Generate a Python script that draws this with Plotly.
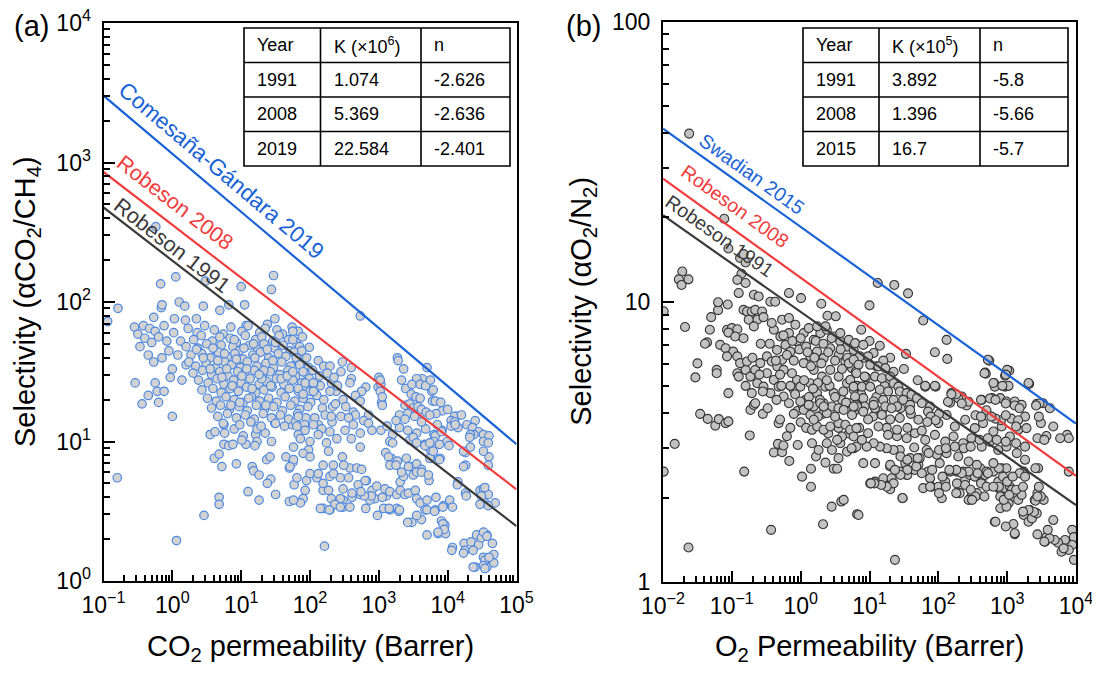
import math
import plotly.graph_objects as go

# ------------------------------------------------------------------
# Panel (a)  CO2/CH4  -- table text and upper-bound line parameters
# ------------------------------------------------------------------
a_years = ["1991", "2008", "2019"]
a_K_text = ["1.074", "5.369", "22.584"]
a_n_text = ["-2.626", "-2.636", "-2.401"]
a_K = [1.074e6, 5.369e6, 22.584e6]
a_n = [-2.626, -2.636, -2.401]
a_line_names = ["Robeson 1991", "Robeson 2008", "Comesaña-Gándara 2019"]

# Panel (b)  O2/N2
b_years = ["1991", "2008", "2015"]
b_K_text = ["3.892", "1.396", "16.7"]
b_n_text = ["-5.8", "-5.66", "-5.7"]
b_K = [3.892e5, 1.396e6, 1.67e7]
b_n = [-5.8, -5.66, -5.7]
b_line_names = ["Robeson 1991", "Robeson 2008", "Swadian 2015"]

# tick labels
a_xtick_exp = [-1, 0, 1, 2, 3, 4, 5]
a_ytick_exp = [0, 1, 2, 3, 4]
b_xtick_exp = [-2, -1, 0, 1, 2, 3, 4]
b_ytick_text = ["1", "10", "100"]

# ------------------------------------------------------------------
# Scatter data: (log10 permeability, log10 selectivity)
# ------------------------------------------------------------------
a_sparse_upper = [
    (-0.94, 1.86), (-0.79, 1.955), (-0.24, 2.54), (0.05, 2.18), (-0.17, 2.13), (-0.16, 1.96), (0.10, 2.00),
    (0.45, 1.97), (0.48, 2.15), (-0.27, 1.89), (0.18, 1.97), (0.69, 1.94), (0.82, 1.98), (1.00, 2.11),
    (1.05, 1.98), (1.47, 2.19), (1.44, 2.09), (1.49, 1.88), (1.38, 1.84), (1.07, 1.83), (2.73, 1.90),
    (0.03, 1.88), (0.19, 1.87), (0.35, 1.88), (-0.15, 1.98),
]
a_left = [
    (-0.55, 1.82), (-0.42, 1.83), (-0.33, 1.81), (-0.25, 1.79), (-0.12, 1.83), (-0.50, 1.77), (-0.40, 1.74),
    (-0.30, 1.71), (-0.47, 1.68), (-0.20, 1.75), (-0.08, 1.72), (-0.54, 1.42), (-0.25, 1.42), (-0.35, 1.33),
    (-0.22, 1.36), (-0.12, 1.36), (-0.44, 1.27), (-0.20, 1.28), (0.00, 1.18), (-0.27, 1.57), (0.00, 1.52),
    (-0.03, 1.46), (0.14, 1.44), (-0.05, 1.65), (0.08, 1.62), (-0.15, 1.60), (0.12, 1.72), (0.02, 1.78),
    (-0.35, 1.62), (0.20, 1.55), (-0.80, 0.74), (0.06, 0.29), (0.46, 0.47),
]
a_low = [
    (0.68, 0.60), (0.68, 0.55), (1.10, 0.64), (1.26, 0.58), (1.50, 0.62), (1.70, 0.57), (0.93, 0.84),
    (0.72, 0.82), (0.61, 0.88), (0.68, 0.91), (1.16, 0.82), (1.18, 0.79), (1.26, 0.76), (1.43, 0.73),
    (1.38, 0.70), (1.77, 0.69), (1.37, 0.87), (1.42, 0.89), (1.65, 0.89), (1.75, 0.85), (1.70, 0.81),
    (0.75, 0.98), (0.82, 0.97), (0.88, 0.98), (1.07, 0.98), (0.55, 1.05), (0.62, 1.07), (0.76, 1.06),
    (0.75, 1.12), (0.90, 1.09), (1.03, 1.04), (1.01, 1.01), (1.21, 1.05), (1.23, 1.09), (1.23, 1.00),
    (1.20, 0.97), (1.35, 1.06), (1.44, 1.00), (1.49, 1.13), (1.74, 1.12), (1.83, 1.05),
]
a_core = [
    (0.23, 1.81), (0.36, 1.78), (0.47, 1.83), (0.61, 1.80), (0.74, 1.77), (0.85, 1.82), (1.01, 1.79), (1.10, 1.83),
    (1.27, 1.78), (1.35, 1.81), (1.52, 1.80), (1.60, 1.77), (1.74, 1.82), (1.83, 1.79),
    (0.31, 1.73), (0.42, 1.76), (0.58, 1.72), (0.69, 1.75), (0.84, 1.74), (0.93, 1.71), (1.06, 1.76), (1.21, 1.73),
    (1.30, 1.75), (1.46, 1.72), (1.55, 1.76), (1.69, 1.73), (1.80, 1.71), (1.89, 1.75),
    (0.20, 1.68), (0.37, 1.67), (0.50, 1.70), (0.62, 1.66), (0.71, 1.69), (0.88, 1.68), (0.97, 1.65), (1.12, 1.69),
    (1.24, 1.66), (1.33, 1.70), (1.48, 1.67), (1.61, 1.69), (1.71, 1.65), (1.85, 1.68),
    (0.27, 1.62), (0.43, 1.63), (0.55, 1.60), (0.67, 1.64), (0.80, 1.61), (0.91, 1.63), (1.03, 1.59), (1.17, 1.62),
    (1.28, 1.64), (1.40, 1.60), (1.54, 1.63), (1.65, 1.61), (1.77, 1.64), (1.91, 1.60),
    (0.24, 1.57), (0.34, 1.54), (0.49, 1.56), (0.63, 1.53), (0.76, 1.57), (0.86, 1.55), (0.99, 1.53), (1.09, 1.57),
    (1.23, 1.54), (1.36, 1.56), (1.47, 1.53), (1.59, 1.57), (1.72, 1.54), (1.86, 1.56), (1.98, 1.53),
    (0.30, 1.49), (0.44, 1.51), (0.57, 1.48), (0.69, 1.50), (0.81, 1.47), (0.95, 1.50), (1.05, 1.48), (1.19, 1.51),
    (1.31, 1.47), (1.42, 1.50), (1.56, 1.48), (1.68, 1.51), (1.79, 1.47), (1.93, 1.49), (2.04, 1.51),
    (0.38, 1.44), (0.52, 1.42), (0.65, 1.45), (0.75, 1.41), (0.89, 1.44), (1.00, 1.42), (1.13, 1.45), (1.26, 1.41),
    (1.37, 1.43), (1.51, 1.45), (1.62, 1.41), (1.75, 1.44), (1.88, 1.42), (1.99, 1.45), (2.10, 1.42),
    (0.43, 1.37), (0.59, 1.38), (0.71, 1.35), (0.84, 1.38), (0.96, 1.36), (1.08, 1.39), (1.21, 1.35), (1.33, 1.37),
    (1.45, 1.39), (1.58, 1.35), (1.70, 1.38), (1.83, 1.36), (1.95, 1.38), (2.07, 1.35),
    (0.51, 1.31), (0.64, 1.29), (0.78, 1.32), (0.90, 1.30), (1.03, 1.28), (1.15, 1.32), (1.27, 1.29), (1.40, 1.31),
    (1.52, 1.28), (1.64, 1.32), (1.78, 1.29), (1.90, 1.31), (2.01, 1.28),
    (0.57, 1.24), (0.70, 1.26), (0.83, 1.23), (0.97, 1.25), (1.09, 1.22), (1.22, 1.26), (1.34, 1.23), (1.47, 1.25),
    (1.60, 1.22), (1.72, 1.26), (1.85, 1.23), (1.97, 1.25),
    (0.66, 1.18), (0.80, 1.20), (0.93, 1.17), (1.06, 1.19), (1.19, 1.16), (1.32, 1.20), (1.44, 1.17), (1.57, 1.19),
    (1.69, 1.16), (1.82, 1.20), (1.94, 1.17),
    (0.74, 1.13), (0.98, 1.12), (1.14, 1.14), (1.29, 1.11), (1.50, 1.13), (1.63, 1.11), (1.79, 1.14), (1.92, 1.12),
    (0.66, 1.58), (0.79, 1.52), (0.93, 1.59), (1.08, 1.52), (1.20, 1.60), (1.33, 1.51), (1.46, 1.58), (0.72, 1.46),
    (0.87, 1.40), (1.01, 1.47), (1.16, 1.38), (1.30, 1.45), (1.43, 1.40), (0.59, 1.67), (0.76, 1.63), (0.90, 1.73),
    (1.04, 1.67), (1.18, 1.70), (1.38, 1.66), (1.50, 1.71), (0.55, 1.52), (1.26, 1.48), (1.58, 1.45), (1.11, 1.31),
    (0.98, 1.28), (1.36, 1.26), (0.85, 1.26), (1.67, 1.47), (1.81, 1.59), (0.45, 1.60), (0.35, 1.66),
]
a_mid = [
    (2.12, 1.58), (2.20, 1.54), (2.29, 1.54), (2.47, 1.57), (2.60, 1.53), (2.60, 1.45), (2.58, 1.42), (2.31, 1.42),
    (2.81, 1.39), (2.99, 1.39), (3.03, 1.41), (2.75, 1.36), (2.66, 1.33), (2.38, 1.36), (2.29, 1.36), (2.48, 1.30),
    (2.73, 1.29), (3.04, 1.28), (3.05, 1.26), (2.63, 1.21), (2.66, 1.19), (2.85, 1.19), (2.18, 1.24), (2.22, 1.19),
    (2.33, 1.25), (2.37, 1.27), (2.15, 1.40), (2.05, 1.41), (2.10, 1.33), (2.20, 1.30), (2.14, 1.47), (2.25, 1.49),
    (2.35, 1.46), (2.45, 1.50), (2.40, 1.40), (2.52, 1.25), (2.45, 1.18), (2.32, 1.14), (2.12, 1.12),
    (1.83, 1.18), (2.07, 1.17), (2.31, 1.18), (2.56, 1.17), (2.78, 1.15), (1.81, 1.11), (1.93, 1.08), (2.05, 1.12),
    (2.17, 1.09), (2.29, 1.07), (1.86, 1.02), (2.00, 1.00), (2.12, 1.05), (2.24, 0.99), (2.39, 1.02), (2.51, 1.08),
    (2.63, 1.12), (2.85, 1.13), (1.76, 0.96), (1.98, 0.94), (2.27, 0.93), (2.73, 1.06), (2.73, 0.96), (2.90, 1.08),
    (3.03, 1.08), (2.60, 1.02),
    (1.90, 0.915), (2.00, 0.89), (1.76, 0.87), (1.71, 0.82), (2.19, 0.83), (2.34, 0.83), (2.58, 0.81), (2.68, 0.81),
    (2.75, 0.80), (2.82, 0.72), (2.70, 0.69), (2.73, 0.62), (2.61, 0.60), (2.48, 0.58), (2.44, 0.59), (2.31, 0.59),
    (2.19, 0.52), (2.29, 0.51), (2.36, 0.55), (2.48, 0.53), (1.81, 0.74), (1.95, 0.72), (1.93, 0.65), (2.19, 0.65),
    (2.27, 0.65), (2.10, 0.74), (2.29, 0.75), (2.44, 0.74), (2.56, 0.74), (1.90, 0.59), (1.86, 0.56), (1.76, 0.58),
    (2.48, 0.66), (2.58, 0.53), (2.00, 0.77), (2.12, 0.77), (2.19, 0.70), (2.34, 0.77), (2.47, 0.89), (2.49, 0.83),
    (2.15, 0.52), (2.28, 0.51), (2.44, 0.53), (2.21, 0.25),
    (1.75, 1.79), (1.75, 1.73), (1.99, 1.675), (1.88, 1.65), (1.93, 1.42), (2.05, 1.42), (2.00, 1.36), (1.83, 1.38),
    (1.90, 1.34), (2.05, 1.36), (1.95, 1.60), (1.80, 1.60), (1.85, 1.55), (1.75, 1.50), (1.90, 1.50),
]
a_right = [
    (3.27, 1.60), (3.28, 1.58), (3.33, 1.44), (3.63, 1.45), (3.39, 1.38), (3.77, 1.36), (3.79, 1.37), (3.47, 1.34),
    (3.54, 1.32), (3.60, 1.31), (3.38, 1.26), (3.45, 1.27), (3.78, 1.29), (3.50, 1.24), (3.57, 1.25), (3.62, 1.23),
    (3.92, 1.22), (4.13, 1.18), (3.83, 1.20), (3.69, 1.21), (3.74, 1.19), (3.30, 1.19), (3.42, 1.20), (3.52, 1.18),
    (4.40, 1.15), (3.70, 1.53), (3.36, 1.52), (3.55, 1.45), (3.48, 1.41), (3.60, 1.41), (3.68, 1.40), (3.75, 1.44),
    (3.82, 1.29), (3.90, 1.28), (4.00, 1.23), (4.10, 1.18), (4.20, 1.19), (4.05, 1.15), (4.15, 1.10), (4.28, 1.12),
    (4.36, 1.10), (4.45, 1.07), (4.52, 1.05), (4.60, 1.04), (4.38, 1.05), (4.26, 0.92), (4.26, 0.83), (4.60, 0.89),
    (4.33, 1.05), (4.33, 0.96), (4.52, 1.00), (4.52, 0.93), (4.23, 0.93), (3.99, 1.00), (4.02, 0.97), (4.05, 1.11),
    (4.10, 1.14), (3.02, 1.36), (3.05, 1.32), (3.00, 1.46), (3.02, 1.44),
    (3.30, 1.10), (3.42, 1.08), (3.55, 1.06), (3.68, 1.09), (3.80, 1.05), (3.92, 1.08), (3.25, 1.15), (3.38, 1.16),
    (3.62, 1.14), (3.85, 1.12), (3.12, 1.11), (3.20, 1.05),
    (3.45, 1.01), (3.50, 1.03), (3.55, 0.99), (3.16, 1.00), (3.20, 0.99), (3.67, 0.98), (3.72, 0.96), (3.76, 0.93),
    (3.82, 1.04), (3.91, 1.07), (3.80, 1.00), (3.88, 0.98), (3.75, 0.88), (3.89, 0.88), (3.10, 0.92), (3.18, 0.88),
    (3.27, 0.86), (3.40, 0.88), (3.48, 0.82), (3.55, 0.84), (3.62, 0.80),
    (2.98, 0.47), (2.81, 0.52), (3.07, 0.52), (3.16, 0.51), (3.26, 0.52), (3.29, 0.50), (3.11, 0.61), (2.94, 0.59),
    (2.87, 0.58), (2.80, 0.72), (2.90, 0.65), (2.97, 0.68), (3.09, 0.66), (3.16, 0.64), (3.26, 0.62), (3.31, 0.65),
    (3.38, 0.62), (3.43, 0.63), (3.53, 0.65), (3.31, 0.71), (3.36, 0.75), (3.33, 0.78), (3.50, 0.76), (3.55, 0.78),
    (3.62, 0.78), (3.73, 0.72), (3.72, 0.76), (3.14, 0.89), (3.16, 0.83), (3.25, 0.83), (3.43, 0.82), (3.55, 0.59),
    (3.60, 0.56), (3.70, 0.58), (3.67, 0.51), (3.62, 0.44), (3.82, 0.51), (3.94, 0.54), (4.03, 0.58), (4.07, 0.53),
    (3.83, 0.60), (4.15, 0.71), (4.26, 0.63), (4.47, 0.65), (4.52, 0.66), (4.59, 0.62), (4.54, 0.56), (4.47, 0.55),
    (4.23, 0.82), (3.48, 0.42), (3.91, 0.43), (3.96, 0.40), (3.70, 0.33), (3.86, 0.34), (3.97, 0.34), (4.07, 0.24),
    (4.06, 0.22), (4.24, 0.27), (4.25, 0.22), (4.23, 0.20), (4.34, 0.28), (4.42, 0.33), (4.45, 0.26), (4.49, 0.31),
    (4.57, 0.33), (4.40, 0.10), (4.52, 0.17), (4.57, 0.10), (3.74, 0.88), (3.88, 0.87), (3.67, 0.97), (3.74, 0.99),
    (3.79, 0.93),
    (4.37, 0.10), (4.54, 0.15), (4.52, 0.11), (4.54, 0.09), (4.67, 0.13), (4.67, 0.19), (4.60, 0.17), (4.52, 0.35),
    (4.57, 0.32), (4.65, 0.27), (4.37, 0.22), (4.69, 0.56), (4.59, 0.54), (4.49, 0.61), (4.54, 0.67), (4.14, 0.69),
    (4.27, 0.61), (4.32, 1.03), (4.59, 0.99), (4.11, 1.12), (4.59, 0.83),
    (3.42, 0.42), (3.55, 0.47), (3.70, 0.51), (3.81, 0.50), (3.93, 0.53), (3.30, 0.51), (3.15, 0.52), (3.05, 0.60),
    (2.89, 0.61), (2.79, 0.61), (2.61, 0.63), (2.74, 0.64), (3.93, 0.41), (3.95, 0.37), (3.86, 0.35),
]

b_upper = [
    (-1.62, 1.60), (-1.11, 1.296), (-1.72, 1.108), (-1.77, 1.08), (-1.73, 1.06), (-1.63, 1.08), (-1.68, 0.91),
    (-1.99, 0.966), (-1.05, 1.19), (-0.88, 1.156), (-0.80, 1.14), (-0.86, 1.10), (-0.83, 1.17), (-0.92, 1.078),
    (-0.80, 1.067), (-0.90, 1.031), (-0.68, 1.025), (-0.61, 1.019), (-0.44, 1.00), (-0.37, 1.00), (-0.17, 1.031),
    (0.005, 1.013), (0.30, 0.993), (0.39, 0.95), (0.51, 0.948), (1.12, 1.067), (1.36, 1.06), (1.56, 1.03),
    (1.00, 0.987), (1.78, 0.933), (2.12, 0.864), (1.95, 0.82), (2.13, 0.796), (1.53, 0.814), (2.74, 0.79),
    (2.68, 0.747), (2.69, 0.743), (3.03, 0.754), (2.97, 0.736), (2.81, 0.71), (2.82, 0.697), (2.97, 0.697),
    (3.02, 0.70), (3.32, 0.707),
]
b_left = [
    (-1.50, 0.78), (-1.53, 0.73), (-1.22, 0.757), (-1.05, 0.674), (-1.32, 0.90), (-1.30, 0.945), (-1.20, 0.97),
    (-1.20, 0.998), (-1.06, 0.99), (-1.36, 0.855), (-1.39, 0.85),
    (-1.07, 0.90), (-1.00, 0.906), (-0.92, 0.902), (-1.05, 0.89), (-0.95, 0.876), (-0.83, 0.87), (-1.17, 0.846),
    (-1.09, 0.834), (-0.98, 0.822), (-0.92, 0.805), (-1.07, 0.805), (-0.83, 0.971), (-0.78, 0.965), (-0.71, 0.965),
    (-0.66, 0.971), (-0.56, 0.965), (-0.63, 0.936), (-0.54, 0.945), (-0.755, 0.936), (-0.68, 0.912), (-1.22, 0.745),
    (-1.83, 0.493), (-1.99, 0.394), (-1.63, 0.123), (-1.46, 0.60), (-1.35, 0.582), (-1.24, 0.558), (-1.19, 0.581),
    (-1.09, 0.567), (-1.05, 0.573), (-0.82, 0.394), (-0.74, 0.523), (-0.73, 0.614), (-0.68, 0.632), (-0.55, 0.60),
    (-0.32, 0.567), (-0.43, 0.186), (-0.39, 0.462), (-0.33, 0.493), (-0.27, 0.463), (-0.25, 0.487), (-0.165, 0.432),
    (-0.043, 0.489), (0.02, 0.376), (0.15, 0.34), (0.15, 0.404), (0.325, 0.206), (0.45, 0.269), (0.59, 0.287),
    (0.625, 0.293), (0.82, 0.242),
]
b_core = [
    (-0.92, 0.745), (-0.90, 0.733), (-0.80, 0.757), (-0.73, 0.733), (-0.66, 0.757), (-0.63, 0.709), (-0.71, 0.674),
    (-0.66, 0.638), (-0.88, 0.781), (-0.78, 0.787), (-0.586, 0.781), (-0.49, 0.805), (-0.42, 0.787), (-0.34, 0.769),
    (-0.247, 0.757), (-0.49, 0.745), (-0.39, 0.721), (-0.54, 0.697), (-0.44, 0.674), (-0.32, 0.697), (-0.247, 0.662),
    (-0.17, 0.638), (-0.10, 0.686), (-0.053, 0.721), (-0.126, 0.745), (-0.27, 0.793), (-0.344, 0.828), (-0.22, 0.846),
    (-0.15, 0.822), (-0.053, 0.858), (0.044, 0.888), (0.117, 0.906), (0.19, 0.864), (0.286, 0.888), (0.38, 0.900),
    (0.48, 0.876), (0.576, 0.858), (0.673, 0.840), (0.77, 0.828), (0.43, 0.834), (0.552, 0.81), (0.65, 0.787),
    (0.746, 0.763), (0.334, 0.799), (0.237, 0.822), (0.14, 0.805), (0.044, 0.781), (0.19, 0.757), (0.31, 0.733),
    (0.43, 0.757), (0.552, 0.733), (0.673, 0.709), (0.77, 0.686), (-0.005, 0.697), (0.14, 0.709), (0.237, 0.674),
    (0.358, 0.697), (0.48, 0.674), (0.60, 0.65), (0.72, 0.638), (0.068, 0.65), (0.19, 0.626), (0.334, 0.638),
    (0.455, 0.626), (-0.39, 0.900), (-0.295, 0.876), (-0.17, 0.888), (-0.077, 0.918), (-0.27, 0.936), (-0.17, 0.942),
    (-0.42, 0.924), (0.24, 0.912), (0.36, 0.912), (0.576, 0.888), (0.70, 0.864), (0.795, 0.852),
    (-0.45, 0.85), (-0.36, 0.79), (-0.30, 0.74), (-0.20, 0.81), (-0.10, 0.79), (-0.02, 0.83), (0.08, 0.84),
    (0.15, 0.77), (0.22, 0.86), (0.30, 0.78), (0.40, 0.82), (0.50, 0.79), (0.60, 0.76), (0.68, 0.80), (0.05, 0.72),
    (0.25, 0.71), (0.42, 0.70), (0.62, 0.68), (-0.15, 0.70), (-0.35, 0.65), (-0.05, 0.61), (0.12, 0.66), (0.32, 0.60),
    (0.55, 0.62), (0.82, 0.70), (0.90, 0.62), (1.05, 0.59), (1.18, 0.61), (1.30, 0.58), (1.45, 0.62), (1.60, 0.60),
    (1.70, 0.72), (1.50, 0.76), (1.30, 0.80), (1.00, 0.86), (0.88, 0.90), (-0.58, 0.85), (-0.70, 0.80), (-0.60, 0.74),
    (-0.80, 0.70), (-0.55, 0.68), (-0.48, 0.62), (-0.30, 0.58), (-0.15, 0.55), (0.00, 0.57),
    (-0.25, 0.88), (-0.12, 0.86), (0.00, 0.87), (0.10, 0.82), (0.20, 0.80), (0.33, 0.85), (0.45, 0.87), (0.58, 0.83),
    (0.70, 0.78), (0.80, 0.75), (0.92, 0.80), (-0.28, 0.70), (-0.08, 0.67), (0.03, 0.63), (0.18, 0.69), (0.28, 0.65),
    (0.38, 0.72), (0.50, 0.66), (0.66, 0.64), (0.78, 0.61), (0.88, 0.67), (0.95, 0.73), (1.10, 0.77), (1.22, 0.70),
    (1.35, 0.75), (1.10, 0.66), (0.98, 0.58), (0.85, 0.55), (0.70, 0.53), (0.55, 0.55), (0.40, 0.53), (0.25, 0.59),
    (0.08, 0.55), (-0.10, 0.60), (-0.20, 0.52), (1.25, 0.55), (1.40, 0.52), (1.55, 0.55), (1.65, 0.48),
    (0.79, 0.852), (0.91, 0.846), (1.06, 0.817), (1.15, 0.843), (1.20, 0.79), (0.86, 0.805), (0.98, 0.805),
    (0.77, 0.793), (0.84, 0.775), (1.01, 0.775), (1.13, 0.769), (1.23, 0.763), (0.81, 0.745), (0.93, 0.733),
    (1.08, 0.733), (1.18, 0.727), (1.30, 0.733), (1.35, 0.709), (1.42, 0.697), (0.72, 0.721), (0.77, 0.697),
    (0.89, 0.697), (1.01, 0.697), (1.15, 0.686), (1.27, 0.68), (1.44, 0.68), (1.54, 0.674), (1.61, 0.668),
    (1.49, 0.65), (1.35, 0.65), (1.20, 0.65), (1.06, 0.644), (0.91, 0.656), (0.79, 0.662), (1.69, 0.656),
    (1.76, 0.638), (1.88, 0.626), (1.59, 0.632), (1.40, 0.626), (1.23, 0.626), (1.08, 0.62), (0.93, 0.626),
    (0.81, 0.632), (1.81, 0.697), (1.96, 0.697),
    (0.223, 0.448), (0.36, 0.426), (0.48, 0.404), (0.53, 0.404), (0.55, 0.442), (0.165, 0.495), (0.26, 0.471),
    (0.38, 0.495), (0.455, 0.471), (0.576, 0.495), (0.673, 0.465), (0.77, 0.477), (0.60, 0.519), (0.53, 0.507),
    (0.165, 0.543), (0.24, 0.555), (0.334, 0.543), (0.43, 0.555), (0.55, 0.567), (0.65, 0.561), (0.72, 0.543),
    (0.77, 0.519), (0.044, 0.614), (0.14, 0.596), (0.19, 0.579), (0.286, 0.638), (0.38, 0.602), (0.50, 0.59),
    (0.625, 0.614), (0.746, 0.596), (0.82, 0.626), (-0.005, 0.644), (0.117, 0.632), (0.334, 0.626),
]
b_right = [
    (2.19, 0.674), (2.34, 0.662), (2.29, 0.656), (2.17, 0.64), (2.41, 0.63), (2.63, 0.65), (2.78, 0.656),
    (2.90, 0.656), (2.99, 0.644), (3.11, 0.644), (3.21, 0.632), (3.43, 0.636), (3.52, 0.638),
    (1.37, 0.079), (0.84, 0.239), (1.48, 0.299), (2.05, 0.299), (2.82, 0.215), (3.09, 0.207), (3.11, 0.171),
    (3.55, 0.144), (3.57, 0.16), (3.24, 0.239), (3.31, 0.215), (3.36, 0.227), (3.40, 0.293), (3.33, 0.257),
    (3.43, 0.245), (3.53, 0.293), (2.94, 0.299), (3.02, 0.281), (2.90, 0.263), (2.99, 0.269), (3.09, 0.305),
    (3.16, 0.293), (3.21, 0.311), (2.90, 0.329), (2.97, 0.335), (3.04, 0.34), (2.85, 0.34), (2.87, 0.358),
    (2.94, 0.376), (3.07, 0.329), (2.48, 0.305), (2.56, 0.317), (2.44, 0.293), (2.31, 0.317), (2.27, 0.352),
    (2.39, 0.364), (2.46, 0.382), (2.36, 0.394), (2.53, 0.376), (2.63, 0.358), (2.68, 0.382), (2.61, 0.406),
    (2.70, 0.394), (2.56, 0.418), (2.44, 0.43), (2.80, 0.394), (2.92, 0.406), (2.99, 0.406), (3.24, 0.394),
    (3.45, 0.406), (0.91, 0.424), (1.08, 0.424), (1.30, 0.412), (1.01, 0.352), (1.08, 0.358), (1.23, 0.346),
    (1.30, 0.331), (1.20, 0.37), (1.32, 0.37), (1.44, 0.394), (1.54, 0.382), (1.66, 0.40), (1.85, 0.394),
    (1.88, 0.37), (1.78, 0.335), (1.90, 0.34), (2.00, 0.34), (2.10, 0.358), (2.17, 0.394), (2.27, 0.394),
    (1.71, 0.418), (1.73, 0.442), (1.59, 0.442), (1.52, 0.424), (1.44, 0.471), (1.35, 0.471), (1.25, 0.477),
    (1.15, 0.483), (1.06, 0.495), (0.96, 0.483), (0.81, 0.483), (0.74, 0.477), (0.89, 0.507),
    (0.77, 0.626), (0.91, 0.608), (1.06, 0.632), (1.18, 0.596), (1.32, 0.62), (1.44, 0.585), (1.59, 0.614),
    (1.71, 0.579), (1.85, 0.608), (2.00, 0.567), (2.12, 0.596), (2.24, 0.555), (2.39, 0.579), (2.53, 0.549),
    (2.65, 0.567), (2.80, 0.537), (2.92, 0.555), (3.04, 0.519), (3.16, 0.543), (0.81, 0.549), (0.98, 0.531),
    (1.13, 0.555), (1.27, 0.525), (1.40, 0.543), (1.54, 0.513), (1.66, 0.531), (1.81, 0.507), (1.95, 0.525),
    (2.10, 0.501), (2.22, 0.519), (2.36, 0.495), (2.48, 0.513), (2.63, 0.483), (2.75, 0.501), (2.87, 0.471),
    (2.99, 0.483), (3.14, 0.46), (3.26, 0.436), (1.83, 0.471), (1.98, 0.454), (2.12, 0.46), (2.29, 0.448),
    (2.02, 0.424),
    (3.945, 0.186), (3.97, 0.16), (3.945, 0.132), (3.895, 0.114), (3.97, 0.079), (3.84, 0.15), (3.74, 0.14),
    (3.69, 0.15), (3.615, 0.156), (3.54, 0.144), (3.79, 0.108), (3.82, 0.12), (3.67, 0.221), (3.59, 0.186),
    (3.44, 0.17), (3.39, 0.25), (3.44, 0.317), (3.41, 0.29), (3.49, 0.305), (3.31, 0.257), (3.23, 0.251),
    (3.87, 0.525), (3.895, 0.513), (3.77, 0.513), (3.67, 0.555), (3.57, 0.521), (3.62, 0.62), (3.47, 0.637),
    (3.42, 0.63), (3.31, 0.71), (3.00, 0.757), (2.98, 0.74), (2.72, 0.793), (2.67, 0.745), (2.80, 0.71),
    (2.93, 0.70), (2.75, 0.655), (2.83, 0.65), (2.98, 0.637), (3.11, 0.63), (3.18, 0.62), (3.26, 0.59),
    (3.06, 0.583), (3.16, 0.577), (2.91, 0.577), (2.83, 0.583), (2.98, 0.595), (2.62, 0.65), (2.54, 0.595),
    (2.70, 0.613), (2.77, 0.59), (2.62, 0.59), (2.44, 0.643), (2.34, 0.637), (2.26, 0.67), (2.14, 0.643),
    (2.19, 0.67), (1.95, 0.70), (1.81, 0.70), (2.01, 0.60), (1.89, 0.59), (1.96, 0.577), (1.84, 0.571),
    (1.76, 0.54), (3.895, 0.394), (3.49, 0.567), (3.28, 0.549), (3.13, 0.555), (3.46, 0.59),
    (1.48, 0.30), (1.55, 0.382), (2.01, 0.317), (2.11, 0.34), (2.26, 0.317), (2.39, 0.346), (2.47, 0.329),
    (2.54, 0.305), (2.62, 0.352), (2.70, 0.34), (2.83, 0.215), (2.98, 0.198), (3.11, 0.174), (2.90, 0.305),
    (2.95, 0.293), (3.03, 0.311), (3.13, 0.329), (2.88, 0.34), (2.80, 0.34), (2.72, 0.388), (2.88, 0.406),
    (2.80, 0.424), (2.57, 0.388), (2.44, 0.394), (2.34, 0.388), (2.26, 0.40), (2.16, 0.40), (2.06, 0.376),
    (1.91, 0.40), (1.88, 0.34), (1.76, 0.388), (1.68, 0.412), (1.55, 0.40), (1.45, 0.382), (1.35, 0.352),
    (1.25, 0.34), (1.17, 0.346), (1.07, 0.352), (1.02, 0.352), (1.30, 0.418), (1.37, 0.40), (1.45, 0.448),
    (1.55, 0.436), (1.70, 0.442), (1.86, 0.46), (2.01, 0.471), (2.11, 0.477), (2.24, 0.483), (2.37, 0.477),
    (2.47, 0.483), (2.60, 0.507), (2.72, 0.513), (2.85, 0.507), (2.98, 0.501), (3.13, 0.495), (3.26, 0.483),
    (3.44, 0.513), (3.54, 0.507), (3.41, 0.406), (3.46, 0.34), (3.44, 0.305), (2.67, 0.305), (2.49, 0.293),
    (3.00, 0.358), (3.18, 0.388), (3.26, 0.376), (3.08, 0.376), (3.23, 0.34),
]

# ------------------------------------------------------------------
# Layout geometry (page pixels of the 1100 x 675 window) and styles.
# The page body has the browser's default 8 px margin, so the figure
# itself is drawn 8 px in from the window's top-left corner.
# ------------------------------------------------------------------
OFF = 8
FW, FH = 1100 - OFF, 675 - OFF
A_X0, A_X1, A_Y0, A_Y1 = 103.5, 516.5, 581.0, 23.0
B_X0, B_X1, B_Y0, B_Y1 = 663.0, 1076.0, 582.0, 21.5
A_XR, A_YR = [-1, 5], [0, 4]
B_XR, B_YR = [-2, 4], [0, 2]


def px_x(px):
    return (px - OFF) / FW


def px_y(py):
    return 1 - (py - OFF) / FH


FONT = "Liberation Sans, Arial, Helvetica, sans-serif"
LINE_COLORS = ["#3a3a3a", "#f03c3c", "#1a63d6"]
A_MARKER = dict(size=8.5, color="#d2d2d2", line=dict(color="#4d88e0", width=1.2))
B_MARKER = dict(size=9, color="#c2c2c2", line=dict(color="#333333", width=1.1))

a_label_lx = [0.0, 0.039, 0.707]
a_label_shift = [15, 24, 24]
a_label_size = [21.5, 21.5, 22.5]
b_label_lx = [-1.172, -0.954, -0.707]
b_label_shift = [19, 25, 18]
b_label_size = [19.5, 19.5, 19.5]

# table grid (page pixel edges)
A_TAB_X = [244, 320.5, 421, 510]
B_TAB_X = [803, 879, 980, 1068]
TAB_Y = [28, 62.5, 97, 131.5, 166]
TAB_PAD = 11


def unzip(*groups):
    xs, ys = [], []
    for g in groups:
        for lx, ly in g:
            xs.append(10 ** lx)
            ys.append(10 ** ly)
    return xs, ys


def minor_vals(lo, hi):
    return [m * 10.0 ** d for d in range(lo, hi) for m in range(2, 10)]


fig = go.Figure()

ax_x, ax_y = unzip(a_sparse_upper, a_left, a_low, a_core, a_mid, a_right)
fig.add_trace(go.Scatter(x=ax_x, y=ax_y, mode="markers", marker=A_MARKER,
                         xaxis="x", yaxis="y", showlegend=False, hoverinfo="skip"))
bx_x, bx_y = unzip(b_upper, b_left, b_core, b_right)
fig.add_trace(go.Scatter(x=bx_x, y=bx_y, mode="markers", marker=B_MARKER,
                         xaxis="x2", yaxis="y2", showlegend=False, hoverinfo="skip"))

annotations = []
shapes = []


def add_bounds(Ks, ns, names, xr, xa, ya, label_lx, label_shift, label_size, x0, x1, y0, y1, yr):
    px_dec_x = (x1 - x0) / (xr[1] - xr[0])
    px_dec_y = (y0 - y1) / (yr[1] - yr[0])
    xs = [10.0 ** xr[0], 10.0 ** xr[1]]
    for k, n, name, col, llx, sh, fs in zip(Ks, ns, names, LINE_COLORS, label_lx, label_shift, label_size):
        ys = [(x / k) ** (1.0 / n) for x in xs]
        fig.add_trace(go.Scatter(x=xs, y=ys, mode="lines", line=dict(color=col, width=2.2),
                                 xaxis=xa, yaxis=ya, showlegend=False, hoverinfo="skip"))
        ang = math.degrees(math.atan((px_dec_y / abs(n)) / px_dec_x))
        lly = math.log10((10 ** llx / k) ** (1.0 / n))
        annotations.append(dict(x=llx, y=lly, xref=xa, yref=ya, text=name, showarrow=False,
                                textangle=ang, yshift=sh, xanchor="center", yanchor="middle",
                                font=dict(family=FONT, size=fs, color=col)))


add_bounds(a_K, a_n, a_line_names, A_XR, "x", "y", a_label_lx, a_label_shift, a_label_size,
           A_X0, A_X1, A_Y0, A_Y1, A_YR)
add_bounds(b_K, b_n, b_line_names, B_XR, "x2", "y2", b_label_lx, b_label_shift, b_label_size,
           B_X0, B_X1, B_Y0, B_Y1, B_YR)


def add_table(xe, ye, rows):
    shapes.append(dict(type="rect", xref="paper", yref="paper",
                       x0=px_x(xe[0]), x1=px_x(xe[-1]), y0=px_y(ye[-1]), y1=px_y(ye[0]),
                       line=dict(color="black", width=1.6), fillcolor="white", layer="above"))
    for xv in xe[1:-1]:
        shapes.append(dict(type="line", xref="paper", yref="paper",
                           x0=px_x(xv), x1=px_x(xv), y0=px_y(ye[-1]), y1=px_y(ye[0]),
                           line=dict(color="black", width=1.6), layer="above"))
    for yv in ye[1:-1]:
        shapes.append(dict(type="line", xref="paper", yref="paper",
                           x0=px_x(xe[0]), x1=px_x(xe[-1]), y0=px_y(yv), y1=px_y(yv),
                           line=dict(color="black", width=1.6), layer="above"))
    for r, row in enumerate(rows):
        yc = (ye[r] + ye[r + 1]) / 2
        for c, txt in enumerate(row):
            annotations.append(dict(x=px_x(xe[c] + TAB_PAD), y=px_y(yc), xref="paper", yref="paper",
                                    text=txt, showarrow=False, xanchor="left", yanchor="middle",
                                    font=dict(family=FONT, size=18, color="black")))


a_rows = [["Year", "K (×10<sup>6</sup>)", "n"]] + [list(r) for r in zip(a_years, a_K_text, a_n_text)]
b_rows = [["Year", "K (×10<sup>5</sup>)", "n"]] + [list(r) for r in zip(b_years, b_K_text, b_n_text)]
add_table(A_TAB_X, TAB_Y, a_rows)
add_table(B_TAB_X, TAB_Y, b_rows)


def sup_label(e):
    s = str(e).replace("-", "\u2212")
    return "10<sup>" + s + "</sup>"


def axis(dom_px, rng, tickvals, ticktext, minor, anchor, is_y):
    if is_y:
        dom = [px_y(dom_px[0]), px_y(dom_px[1])]
    else:
        dom = [px_x(dom_px[0]), px_x(dom_px[1])]
    return dict(domain=dom, type="log", range=rng, anchor=anchor, automargin=False,
                showline=True, linecolor="black", linewidth=2, mirror=True,
                ticks="inside", ticklen=11, tickwidth=2, tickcolor="black",
                tickmode="array", tickvals=tickvals, ticktext=ticktext,
                tickfont=dict(family=FONT, size=23, color="black"),
                ticklabelstandoff=6 if is_y else 2, ticklabeloverflow="allow",
                minor=dict(ticks="inside", ticklen=6, tickwidth=1.5, tickcolor="black",
                           tickmode="array", tickvals=minor, showgrid=False),
                showgrid=False, zeroline=False)


fig.update_layout(
    xaxis=axis((A_X0, A_X1), A_XR, [10.0 ** e for e in a_xtick_exp],
               [sup_label(e) for e in a_xtick_exp], minor_vals(A_XR[0], A_XR[1]), "y", False),
    yaxis=axis((A_Y0, A_Y1), A_YR, [10.0 ** e for e in a_ytick_exp],
               [sup_label(e) for e in a_ytick_exp], minor_vals(A_YR[0], A_YR[1]), "x", True),
    xaxis2=axis((B_X0, B_X1), B_XR, [10.0 ** e for e in b_xtick_exp],
                [sup_label(e) for e in b_xtick_exp], minor_vals(B_XR[0], B_XR[1]), "y2", False),
    yaxis2=axis((B_Y0, B_Y1), B_YR, [1, 10, 100], b_ytick_text,
                minor_vals(B_YR[0], B_YR[1]), "x2", True),
)

# panel letters: anchored at the top edge of the figure
for txt, px in (("(a)", 31), ("(b)", 583)):
    annotations.append(dict(x=px_x(px), y=1.0, xref="paper", yref="paper", text=txt,
                            showarrow=False, xanchor="center", yanchor="top",
                            font=dict(family=FONT, size=29, color="black")))

text_items = [
    ("CO<sub>2</sub> permeability (Barrer)", (A_X0 + A_X1) / 2, 648, 0, 29),
    ("O<sub>2</sub> Permeability (Barrer)", (B_X0 + B_X1) / 2, 648, 0, 29),
    ("Selectivity (\u03b1CO<sub>2</sub>/CH<sub>4</sub>)", 27, (A_Y0 + A_Y1) / 2, -90, 29),
    ("Selectivity (\u03b1O<sub>2</sub>/N<sub>2</sub>)", 583, (B_Y0 + B_Y1) / 2, -90, 29),
]
for txt, px, py, ang, fs in text_items:
    annotations.append(dict(x=px_x(px), y=px_y(py), xref="paper", yref="paper", text=txt,
                            showarrow=False, textangle=ang, xanchor="center", yanchor="middle",
                            font=dict(family=FONT, size=fs, color="black")))

fig.update_layout(
    width=FW, height=FH, margin=dict(l=0, r=0, t=0, b=0, autoexpand=False),
    paper_bgcolor="white", plot_bgcolor="white",
    annotations=annotations, shapes=shapes, showlegend=False,
)

fig.write_html("out.html")
